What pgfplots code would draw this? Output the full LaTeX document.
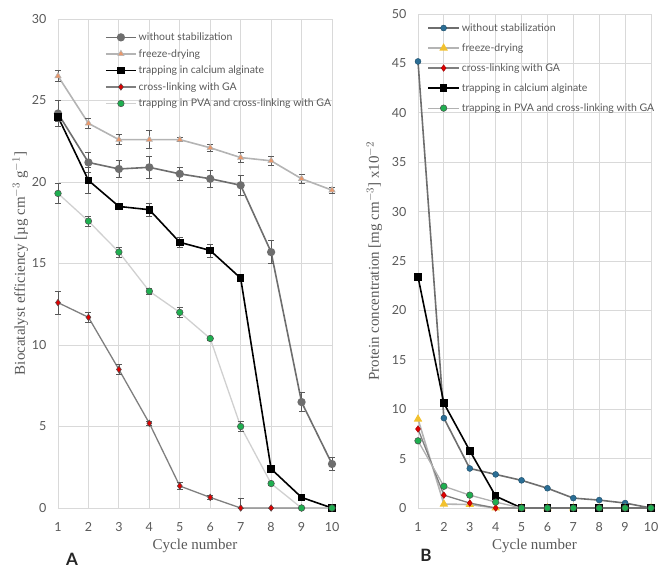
\documentclass[border=0pt]{standalone}
\usepackage{fontspec}
\setmainfont{Liberation Serif}
\newfontfamily\tickfont{Lato}
\usepackage{pgfplots}
\pgfplotsset{compat=1.18}
\definecolor{txtgray}{HTML}{595959}
\definecolor{gridgray}{HTML}{D9D9D9}
\definecolor{wsgray}{HTML}{6E6E6E}
\definecolor{fdline}{HTML}{B4B4B4}
\definecolor{fdorange}{HTML}{E8976B}
\definecolor{clgray}{HTML}{7F7F7F}
\definecolor{pvaline}{HTML}{D0D0D0}
\definecolor{mgreen}{HTML}{1FAF50}
\definecolor{mred}{HTML}{E00000}
\definecolor{mblue}{HTML}{2B6E95}
\definecolor{myellow}{HTML}{F2C12E}
\pgfplotsset{
  common/.style={
    scale only axis,
    anchor=south west,
    xmin=1, xmax=10,
    xtick={1,...,10},
    grid=major,
    major grid style={gridgray, line width=0.8pt},
    axis line style={draw=gridgray, line width=0.8pt},
    major tick length=0pt,
    tick label style={font=\tickfont\fontsize{12.5}{14}\selectfont, text=txtgray},
    /pgf/number format/assume math mode=true,
    xticklabel style={yshift=-11pt},
    yticklabel style={xshift=-8pt},
    xlabel={Cycle number},
    xlabel style={font=\fontsize{15}{17}\selectfont, text=txtgray, yshift=-1pt},
    ylabel style={font=\fontsize{15}{17}\selectfont, text=txtgray},
    clip=false,
    legend cell align=left,
    legend style={draw=none, fill=none, font=\tickfont\fontsize{10.5}{12}\selectfont, text=txtgray,
      inner sep=0pt, outer sep=0pt},
  },
}
\begin{document}
\begin{tikzpicture}
\useasboundingbox (0,0) rectangle (669pt,574pt);
% ---------------- Panel A ----------------
\begin{axis}[common,
  at={(58pt,66pt)}, width=274pt, height=489pt,
  ymin=0, ymax=30, ytick={0,5,...,30},
  ylabel={Biocatalyst efficiency [\textmu g cm$^{-3}$ g$^{-1}$]},
  ylabel style={yshift=-3pt},
  legend style={at={(0.172,0.976)}, anchor=north west, row sep=3.3pt},
  legend image code/.code={
    \draw[#1] (0pt,0pt) -- (30pt,0pt);
    \draw[#1,only marks] plot coordinates {(15pt,0pt)};
  },
]
\addplot[wsgray, line width=1.6pt, mark=*, mark size=3.3pt, mark options={fill=wsgray, draw=wsgray},
  error bars/.cd, y dir=both, y explicit, error bar style={black!65, line width=0.7pt}, error mark options={rotate=90, mark size=3pt, black!65, line width=0.7pt}]
  table[x=x, y=y, y error plus=e, y error minus=e] {
x y e
1 24.2 0.8
2 21.2 0.6
3 20.8 0.5
4 20.9 0.7
5 20.5 0.4
6 20.2 0.5
7 19.8 0.6
8 15.7 0.7
9 6.5 0.6
10 2.7 0.4
};
\addlegendentry{without stabilization}
\addplot[fdline, line width=1.6pt, mark=triangle*, mark size=3.6pt, mark options={fill=fdorange, draw=fdline, line width=0.6pt},
  error bars/.cd, y dir=both, y explicit, error bar style={black!65, line width=0.7pt}, error mark options={rotate=90, mark size=3pt, black!65, line width=0.7pt}]
  table[x=x, y=y, y error plus=e, y error minus=e] {
x y e
1 26.5 0.35
2 23.6 0.3
3 22.6 0.3
4 22.6 0.55
5 22.6 0.12
6 22.1 0.2
7 21.5 0.3
8 21.3 0.3
9 20.2 0.3
10 19.5 0.2
};
\addlegendentry{freeze-drying}
\addplot[black, line width=1.6pt, mark=square*, mark size=3pt, mark options={fill=black},
  error bars/.cd, y dir=both, y explicit, error bar style={black!65, line width=0.7pt}, error mark options={rotate=90, mark size=3pt, black!65, line width=0.7pt}]
  table[x=x, y=y, y error plus=e, y error minus=e] {
x y e
1 24.0 0.3
2 20.1 0.8
3 18.5 0.2
4 18.3 0.4
5 16.3 0.3
6 15.8 0.4
7 14.1 0.1
8 2.4 0.1
9 0.65 0.1
10 0 0
};
\addlegendentry{trapping in calcium alginate}
\addplot[clgray, line width=1.3pt, mark=diamond*, mark size=3.3pt, mark options={fill=mred, draw=black!70, line width=0.5pt},
  error bars/.cd, y dir=both, y explicit, error bar style={black!65, line width=0.7pt}, error mark options={rotate=90, mark size=3pt, black!65, line width=0.7pt}]
  table[x=x, y=y, y error plus=ep, y error minus=em] {
x y ep em
1 12.6 0.7 0.7
2 11.7 0.3 0.3
3 8.5 0.3 0.3
4 5.2 0.1 0.1
5 1.35 0.2 0.2
6 0.65 0.1 0.1
7 0 0.6 0
8 0 0 0
9 0 0 0
10 0 0 0
};
\addlegendentry{cross-linking with GA}
\addplot[pvaline, line width=1.3pt, mark=*, mark size=3.3pt, mark options={fill=mgreen, draw=black!70, line width=0.5pt},
  error bars/.cd, y dir=both, y explicit, error bar style={black!65, line width=0.7pt}, error mark options={rotate=90, mark size=3pt, black!65, line width=0.7pt}]
  table[x=x, y=y, y error plus=e, y error minus=e] {
x y e
1 19.3 0.6
2 17.6 0.3
3 15.7 0.3
4 13.3 0.2
5 12.0 0.3
6 10.4 0.1
7 5.0 0.3
8 1.5 0.1
9 0 0
10 0 0
};
\addlegendentry{trapping in PVA and cross-linking with GA}
\end{axis}
% ---------------- Panel B ----------------
\begin{axis}[common,
  at={(418pt,66pt)}, width=233pt, height=494pt,
  ymin=0, ymax=50, ytick={0,5,...,50},
  ylabel={Protein concentration [mg cm$^{-3}$] x10$^{-2}$},
  ylabel style={yshift=3pt},
  legend style={at={(0.04,0.985)}, anchor=north west, row sep=6.8pt},
  legend image code/.code={
    \draw[#1] (0pt,0pt) -- (31pt,0pt);
    \draw[#1,only marks] plot coordinates {(15.5pt,0pt)};
  },
]
\addplot[wsgray, line width=1.6pt, mark=*, mark size=3pt, mark options={fill=mblue, draw=mblue!70!black, line width=0.4pt}]
  table {
1 45.2
2 9.1
3 4.0
4 3.4
5 2.8
6 2.0
7 1.0
8 0.8
9 0.5
10 0
};
\addlegendentry{without stabilization}
\addplot[fdline, line width=1.6pt, mark=triangle*, mark size=3.3pt, mark options={fill=myellow, draw=myellow}]
  table {
1 9.0
2 0.4
3 0.35
4 0
5 0
6 0
7 0
8 0
9 0
10 0
};
\addlegendentry{freeze-drying}
\addplot[clgray, line width=1.3pt, mark=diamond*, mark size=3.3pt, mark options={fill=mred, draw=mred!70!black, line width=0.4pt}]
  table {
1 8.0
2 1.3
3 0.5
4 0
5 0
6 0
7 0
8 0
9 0
10 0
};
\addlegendentry{cross-linking with GA}
\addplot[black, line width=1.6pt, mark=square*, mark size=3pt, mark options={fill=black}]
  table {
1 23.4
2 10.6
3 5.8
4 1.2
5 0
6 0
7 0
8 0
9 0
10 0
};
\addlegendentry{trapping in calcium alginate}
\addplot[pvaline!85!black, line width=1.3pt, mark=*, mark size=3.3pt, mark options={fill=mgreen, draw=black!70, line width=0.5pt}]
  table {
1 6.8
2 2.2
3 1.3
4 0.6
5 0
6 0
7 0
8 0
9 0
10 0
};
\addlegendentry{trapping in PVA and cross-linking with GA}
\end{axis}
\node[font=\tickfont\bfseries\fontsize{17}{20}\selectfont, text=black!85] at (72pt,15pt) {A};
\node[font=\tickfont\bfseries\fontsize{17}{20}\selectfont, text=black!85] at (426pt,19pt) {B};
\end{tikzpicture}
\end{document}
